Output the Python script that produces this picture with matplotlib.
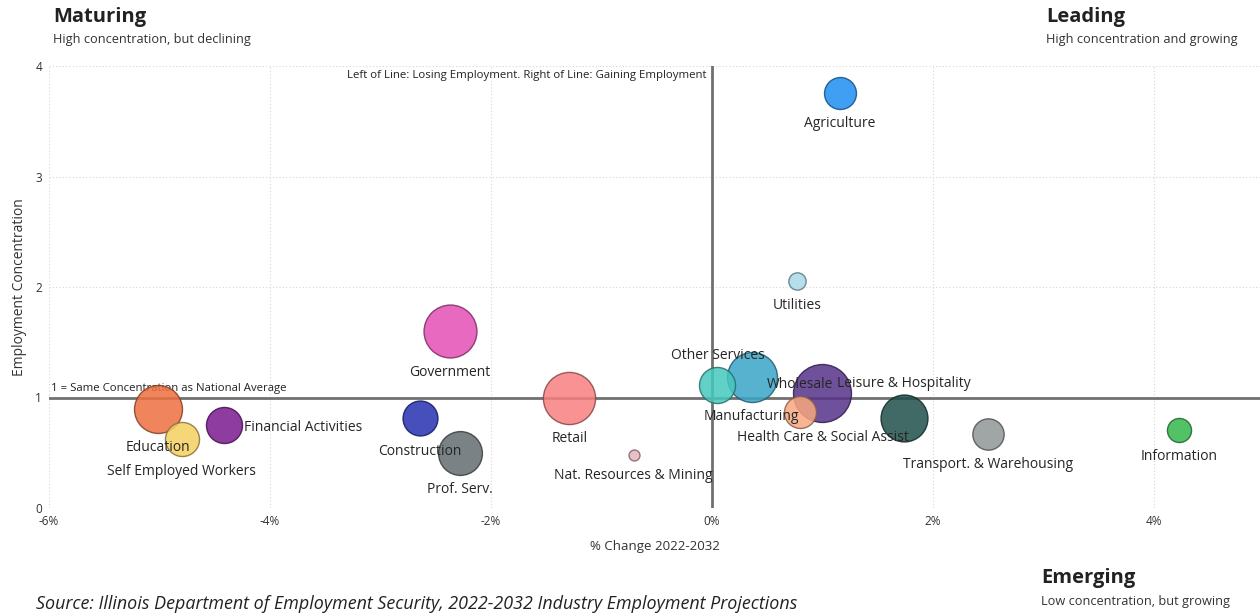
import numpy as np
import matplotlib
matplotlib.use("Agg")
import matplotlib.pyplot as plt
from matplotlib.colors import to_rgb

plt.rcParams['font.family'] = ['Open Sans', 'DejaVu Sans']

industries = ["Agriculture", "Utilities", "Government", "Retail", "Other Services",
              "Manufacturing", "Health Care & Social Assist", "Wholesale",
              "Leisure & Hospitality", "Transport. & Warehousing", "Information",
              "Nat. Resources & Mining", "Construction", "Prof. Serv.",
              "Financial Activities", "Education", "Self Employed Workers"]
pct_change = [1.16, 0.77, -2.37, -1.29, 0.05, 0.36, 1.00, 0.80, 1.74, 2.50, 4.23,
              -0.71, -2.64, -2.28, -4.42, -5.01, -4.80]
concentration = [3.76, 2.05, 1.60, 1.00, 1.11, 1.19, 1.04, 0.87, 0.81, 0.67, 0.71,
                 0.48, 0.81, 0.50, 0.75, 0.90, 0.62]
employment = [255, 75, 700, 680, 325, 625, 840, 255, 550, 245, 145,
              30, 305, 480, 325, 575, 290]
colors = ["#1f8ef1", "#a8dbe8", "#e54fb5", "#f88080", "#45c8bd", "#3aa5c8",
          "#553388", "#f8a880", "#1f4f4a", "#8f9595", "#35b84c", "#e5b5bd",
          "#2530b0", "#646c70", "#7b1a8f", "#ee7040", "#f5d060"]
# label placement: 'below', 'above', 'right'
label_pos = ["below", "below", "below", "below", "above", "below", "below", "above",
             "above", "below", "below", "below", "below", "below", "right", "below", "below"]

xticks = [-6, -4, -2, 0, 2, 4]
yticks = [0, 1, 2, 3, 4]

DPI = 100
fig = plt.figure(figsize=(12.6, 6.14), dpi=DPI)
ax = fig.add_axes([49/1260, 106/614, 1 - 49/1260, 442/614])
ax.set_xlim(-6, 4.96)
ax.set_ylim(0, 4)

for s in ax.spines.values():
    s.set_visible(False)
ax.set_xticks(xticks)
ax.set_yticks(yticks)
ax.set_xticklabels([f"{t}%" for t in xticks])
ax.tick_params(length=0, labelsize=8.5, colors="#333333", pad=5)
ax.grid(True, linestyle=(0, (1, 2)), color="#d6d6d6", linewidth=0.8)
ax.set_axisbelow(True)

# reference lines
ax.axvline(0, color="#707070", linewidth=2, zorder=1)
ax.axhline(1, color="#707070", linewidth=2, zorder=1)
ax.text(-0.05, 3.965, "Left of Line: Losing Employment. Right of Line: Gaining Employment",
        ha="right", va="top", fontsize=8.2, color="#222222")
ax.text(-5.98, 1.035, "1 = Same Concentration as National Average",
        ha="left", va="bottom", fontsize=8.2, color="#222222")

px_to_pt = 72.0 / DPI
emp = np.array(employment, dtype=float)
radius_px = np.sqrt(emp)
sizes = (2 * radius_px * px_to_pt) ** 2
order = np.argsort(-emp)
for z, i in enumerate(order):
    c = np.array(to_rgb(colors[i]))
    edge = c * 0.55
    ax.scatter(pct_change[i], concentration[i], s=sizes[i], color=c, alpha=0.85,
               edgecolors=[tuple(edge)], linewidths=1.0, zorder=3 + z)

for i, name in enumerate(industries):
    r = radius_px[i] * px_to_pt
    if label_pos[i] == "below":
        off, ha, va = (0, -(r + 5.5)), "center", "top"
    elif label_pos[i] == "above":
        off, ha, va = (0, r + 3), "center", "bottom"
    else:
        off, ha, va = (r + 2, -2), "left", "center"
    ax.annotate(name, (pct_change[i], concentration[i]), xytext=off,
                textcoords="offset points", ha=ha, va=va, fontsize=10,
                color="#252525", zorder=40)

ax.set_xlabel("% Change 2022-2032", fontsize=9.5, color="#333333", labelpad=9)
ax.set_ylabel("Employment Concentration", fontsize=10, color="#333333", labelpad=6)

# quadrant titles
fig.text(53/1260, 1 - 17/614, "Maturing", fontsize=14.5, fontweight="bold", color="#222222",
         ha="left", va="center")
fig.text(53/1260, 1 - 40/614, "High concentration, but declining", fontsize=9.2,
         color="#333333", ha="left", va="center")
fig.text(1046/1260, 1 - 17/614, "Leading", fontsize=14.5, fontweight="bold", color="#222222",
         ha="left", va="center")
fig.text(1046/1260, 1 - 40/614, "High concentration and growing", fontsize=9.2,
         color="#333333", ha="left", va="center")
fig.text(1041/1260, 1 - 578/614, "Emerging", fontsize=14.5, fontweight="bold", color="#222222",
         ha="left", va="center")
fig.text(1041/1260, 1 - 601/614, "Low concentration, but growing", fontsize=9.2,
         color="#333333", ha="left", va="center")
fig.text(36/1260, 5/614,
         "Source: Illinois Department of Employment Security, 2022-2032 Industry Employment Projections",
         fontsize=12.9, style="italic", color="#222222", ha="left", va="baseline")

fig.savefig("out.png", dpi=DPI)
